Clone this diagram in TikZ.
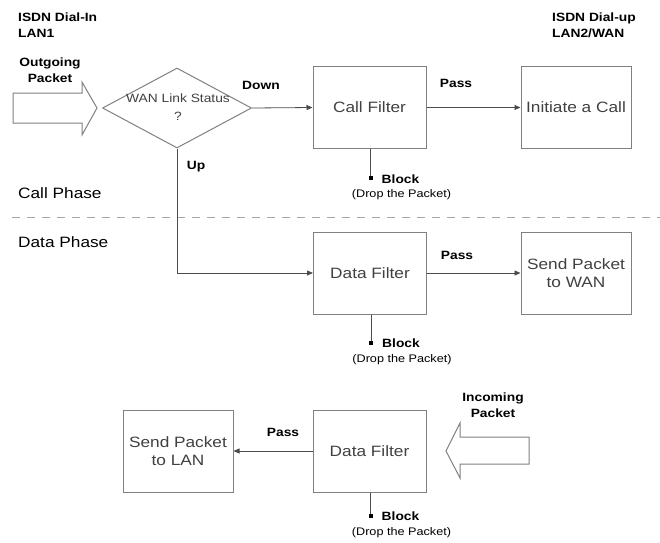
\documentclass[tikz,border=0pt]{standalone}
\usepackage{fontspec}
\setmainfont[FakeStretch=1.15]{Liberation Sans}
\usetikzlibrary{arrows.meta, positioning, shapes.geometric}

\definecolor{linegray}{gray}{0.3}
\definecolor{boxgray}{gray}{0.5}
\definecolor{txtgray}{gray}{0.25}

\begin{document}
\begin{tikzpicture}[x=1pt, y=-1pt,
    every node/.style={inner sep=0pt},
    filterbox/.style={draw=boxgray, line width=1pt, minimum width=113pt, minimum height=82pt,
        font=\fontsize{15}{18}\selectfont, text=txtgray, align=center},
    actbox/.style={filterbox, minimum width=110pt},
    lbl/.style={font=\bfseries\fontsize{12}{16}\selectfont},
    dropnote/.style={font=\fontsize{11}{13}\selectfont},
    phase/.style={font=\fontsize{15}{18}\selectfont, anchor=west},
    flow/.style={draw=linegray, line width=0.8pt, -{Triangle[length=6pt, width=5pt]}},
    bigarrow/.style={draw=boxgray, line width=1pt, line join=miter}
]
    \useasboundingbox (0,0) rectangle (660,542);

    % side labels
    \node[lbl, align=left, anchor=west] (lan1) at (18,25) {ISDN Dial-In\\LAN1};
    \node[lbl, align=left, anchor=west] (lan2) at (552,25) {ISDN Dial-up\\LAN2/WAN};

    % call phase
    \node[lbl, align=center] (outtxt) at (50,70) {Outgoing\\Packet};
    \draw[bigarrow] (13,93) -- (82,93) -- (82,82) -- (97,108) -- (82,135) -- (82,123) -- (13,123) -- cycle;

    \node[diamond, draw=boxgray, line width=1pt, minimum width=149pt, minimum height=80pt] (status) at (177,108) {};
    \node[font=\fontsize{12}{18}\selectfont, text=txtgray, align=center] (statustxt) at (178,107) {WAN Link Status\\?};

    \node[filterbox] (callf) at (369.5,107.5) {Call Filter};
    \node[actbox] (initc) at (576,107.5) {Initiate a Call};

    \draw[flow] (status.east) -- (callf.west);
    \node[lbl] (down) at (261,85) {Down};
    \draw[flow] (callf.east) -- (initc.west);
    \node[lbl] (pass1) at (456,83) {Pass};

    \node[phase] (callph) at (18,193) {Call Phase};
    \draw[boxgray!70, line width=1pt, dash pattern=on 8pt off 7pt] (12,217) -- (660,217);
    \node[phase] (dataph) at (18,242) {Data Phase};

    % data phase
    \node[filterbox] (dataf) at (370,273) {Data Filter};
    \node[actbox] (sendwan) at (576,273) {Send Packet\\to WAN};

    \draw[flow] (status.south) |- (dataf.west);
    \node[lbl] (up) at (196,167) {Up};
    \draw[flow] (dataf.east) -- (sendwan.west);
    \node[lbl] (pass2) at (457,255) {Pass};

    % incoming
    \node[lbl, align=center] (intxt) at (493,405) {Incoming\\Packet};
    \draw[bigarrow] (529,437) -- (460,437) -- (460,423) -- (446,451) -- (460,478) -- (460,464) -- (529,464) -- cycle;

    \node[filterbox] (dataf2) at (369.5,451) {Data Filter};
    \node[actbox] (sendlan) at (178,451) {Send Packet\\to LAN};
    \draw[flow] (dataf2.west) -- (sendlan.east);
    \node[lbl] (pass3) at (283,432) {Pass};

    % block outlets
    \foreach \f/\d in {callf/29, dataf/28, dataf2/23} {
        \coordinate (\f-blk) at ([xshift=1pt, yshift=-\d pt]\f.south);
        \draw[linegray, line width=0.8pt] ([xshift=1pt]\f.south) -- (\f-blk);
        \node[fill=black, minimum size=4pt] (\f-sq) at (\f-blk) {};
        \node[lbl, anchor=west] (\f-blktxt) at ([xshift=11pt, yshift=-1pt]\f-blk) {Block};
        \node[dropnote] (\f-drop) at ([xshift=31pt, yshift=-17pt]\f-blk) {(Drop the Packet)};
    }

\end{tikzpicture}
\end{document}
